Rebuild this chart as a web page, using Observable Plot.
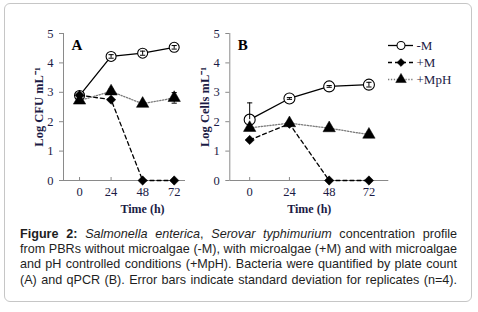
<!DOCTYPE html>
<html><head><meta charset="utf-8">
<script src="https://cdn.jsdelivr.net/npm/d3@7"></script>
<script src="https://cdn.jsdelivr.net/npm/@observablehq/plot@0.6"></script>
<style>
html,body{margin:0;padding:0;background:#fff;}
#page{position:relative;width:478px;height:312px;overflow:hidden;background:#fff;}
#frame{position:absolute;left:4px;top:3px;width:466px;height:297px;border:1.5px solid #c6c6c6;border-radius:6px;}
.panel{position:absolute;top:0;}
#caption{position:absolute;left:20px;top:227px;width:437px;font-family:"Liberation Sans",Arial,sans-serif;font-size:12.6px;line-height:15.2px;color:#1e1e1e;}
#caption div{text-align:justify;text-align-last:justify;}
</style></head><body>
<div id="page"><div id="frame"></div>
<div id="panelA" class="panel" style="left:0px"></div>
<div id="panelB" class="panel" style="left:180px"></div>
<div id="legend" class="panel" style="left:383px;top:20px"></div>
<div id="caption"></div>
</div>
<script>
// ---- data ----
const times = [0, 24, 48, 72];
const yTicks = [0, 1, 2, 3, 4, 5];
const seriesNames = ["-M", "+M", "+MpH"];

// Panel A: plate count (Log CFU mL-1)
const aMinusM  = [2.89, 4.22, 4.33, 4.53];
const aPlusM   = [2.90, 2.75, 0, 0];
const aPlusMpH = [2.72, 3.03, 2.61, 2.81];
const aMinusMErrUp   = [0.05, 0.06, 0.07, 0.06];
const aMinusMErrDown = [0.05, 0.06, 0.07, 0.06];
const aPlusMpHErrUp   = [0.05, 0.08, 0.04, 0.18];
const aPlusMpHErrDown = [0.05, 0.08, 0.04, 0.18];

// Panel B: qPCR (Log Cells mL-1)
const bMinusM  = [2.07, 2.79, 3.20, 3.26];
const bPlusM   = [1.38, 1.93, 0, 0];
const bPlusMpH = [1.79, 1.95, 1.78, 1.56];
const bMinusMErrUp   = [0.57, 0.03, 0.03, 0.08];
const bMinusMErrDown = [0, 0.03, 0.03, 0.08];

const panelLetters = ["A", "B"];
const yLabels = ["Log CFU mL\u207B\u00B9", "Log Cells mL\u207B\u00B9"];
const xLabel = "Time (h)";

const captionLines = [
  '<b>Figure 2:</b> <i>Salmonella enterica</i>, <i>Serovar typhimurium</i> concentration profile',
  'from PBRs without microalgae (-M), with microalgae (+M) and with microalgae',
  'and pH controlled conditions (+MpH). Bacteria were quantified by plate count',
  '(A) and qPCR (B). Error bars indicate standard deviation for replicates (n=4).'
];

// ---- styles ----
const navy = "#1b1b45";
const axisGray = "#8a8a8a";
const serif = '"Liberation Serif","Times New Roman",serif';
const style = {
  "-M":   {stroke: "#000", dash: null, width: 1.3, symbol: "circle", fill: "#fff", r: 5},
  "+M":   {stroke: "#000", dash: "4,3", width: 1.3, symbol: "diamond2", fill: "#000", r: 4.2},
  "+MpH": {stroke: "#7a7a7a", dash: "1.3,1.6", width: 1.3, symbol: "triangle", fill: "#000", r: 4.6}
};
const capSymbol = {draw(ctx, size) { const w = Math.sqrt(size / Math.PI); ctx.moveTo(-w, 0); ctx.lineTo(w, 0); }};

function rows(values, up, down) {
  return times.map((t, j) => ({t, v: values[j], hi: up ? up[j] : 0, lo: down ? down[j] : 0}));
}

function panel({values, errs, width, marginLeft, marginRight, xDomain, letter, yLabel, timeDx, rCircle}) {
  const marks = [
    Plot.ruleX([xDomain[0]], {stroke: axisGray}),
    Plot.ruleY([0], {stroke: axisGray}),
    Plot.axisY({ticks: yTicks, tickFormat: d3.format("d"), tickSize: 4, tickPadding: 6, stroke: axisGray, fill: navy, label: null, fontSize: 12.5}),
    Plot.axisX({ticks: times, tickFormat: d3.format("d"), tickSize: -3, tickPadding: 10, stroke: axisGray, fill: navy, label: null, fontSize: 12.5})
  ];
  seriesNames.forEach((s, i) => {
    const st = style[s];
    const data = rows(values[i], errs[i] && errs[i][0], errs[i] && errs[i][1]);
    marks.push(Plot.line(data, {x: "t", y: "v", stroke: st.stroke, strokeWidth: st.width, strokeDasharray: st.dash}));
    marks.push(Plot.dot(data, {x: "t", y: "v", symbol: st.symbol, r: s === "-M" ? rCircle : st.r, fill: st.fill, stroke: "#000", strokeWidth: s === "-M" ? 1.1 : 0.5}));
    if (errs[i]) {
      const ed = data.filter(d => d.hi > 0 || d.lo > 0);
      marks.push(Plot.ruleX(ed, {x: "t", y1: d => d.v - d.lo, y2: d => d.v + d.hi, stroke: "#000", strokeWidth: 1}));
      marks.push(Plot.dot(ed.filter(d => d.hi > 0), {x: "t", y: d => d.v + d.hi, symbol: capSymbol, r: 2.6, stroke: "#000", fill: "none", strokeWidth: 1}));
      marks.push(Plot.dot(ed.filter(d => d.lo > 0), {x: "t", y: d => d.v - d.lo, symbol: capSymbol, r: 2.6, stroke: "#000", fill: "none", strokeWidth: 1}));
    }
  });
  marks.push(Plot.text([letter], {frameAnchor: "top-left", textAnchor: "start", lineAnchor: "top", dx: 8, dy: 6, fontWeight: "bold", fontSize: 15, fill: "#000"}));
  marks.push(Plot.text([yLabel], {frameAnchor: "left", textAnchor: "middle", lineAnchor: "middle", rotate: -90, dx: -25, fontWeight: "bold", fontSize: 12.5, fill: navy}));
  marks.push(Plot.text([xLabel], {frameAnchor: "bottom", textAnchor: "middle", lineAnchor: "middle", dy: 29, dx: timeDx, fontWeight: "bold", fontSize: 12, fill: navy}));
  return Plot.plot({
    width, height: 220, marginLeft, marginRight, marginTop: 33, marginBottom: 40,
    x: {domain: xDomain, label: null, axis: null},
    y: {domain: [0, 5], label: null, axis: null},
    style: {fontFamily: serif, fontSize: "12px", color: navy, background: "transparent", overflow: "visible"},
    marks
  });
}

document.getElementById("panelA").append(panel({
  values: [aMinusM, aPlusM, aPlusMpH],
  errs: [[aMinusMErrUp, aMinusMErrDown], null, [aPlusMpHErrUp, aPlusMpHErrDown]],
  width: 221, marginLeft: 63, marginRight: 36, xDomain: [-12.2, 80.6],
  letter: panelLetters[0], yLabel: yLabels[0], timeDx: 18, rCircle: 5
}));
document.getElementById("panelB").append(panel({
  values: [bMinusM, bPlusM, bPlusMpH],
  errs: [[bMinusMErrUp, bMinusMErrDown], null, null],
  width: 210, marginLeft: 49.3, marginRight: 1.7, xDomain: [-12, 84],
  letter: panelLetters[1], yLabel: yLabels[1], timeDx: 0, rCircle: 5.5
}));

// legend
document.getElementById("legend").append(Plot.plot({
  width: 95, height: 85, marginLeft: 5, marginRight: 65, marginTop: 0, marginBottom: 0,
  x: {domain: [0, 1], range: [5, 30], axis: null},
  y: {type: "point", domain: seriesNames, range: [15, 68], axis: null},
  style: {fontFamily: serif, fontSize: "12.5px", color: navy, background: "transparent", overflow: "visible"},
  marks: [
    ...seriesNames.map(s => Plot.ruleY([s], {y: d => d, x1: 0, x2: 1, stroke: style[s].stroke, strokeWidth: style[s].width, strokeDasharray: style[s].dash})),
    ...seriesNames.map(s => Plot.dot([s], {y: d => d, x: 0.5, symbol: style[s].symbol, r: s === "-M" ? 4 : style[s].r * 0.85, fill: style[s].fill, stroke: "#000", strokeWidth: s === "-M" ? 1.1 : 0.5})),
    Plot.text(seriesNames, {y: d => d, x: 1, text: d => d, textAnchor: "start", dx: 3, fill: navy, fontSize: 13})
  ]
}));

document.getElementById("caption").innerHTML = captionLines.map(l => `<div>${l}</div>`).join("");
</script>
</body></html>
